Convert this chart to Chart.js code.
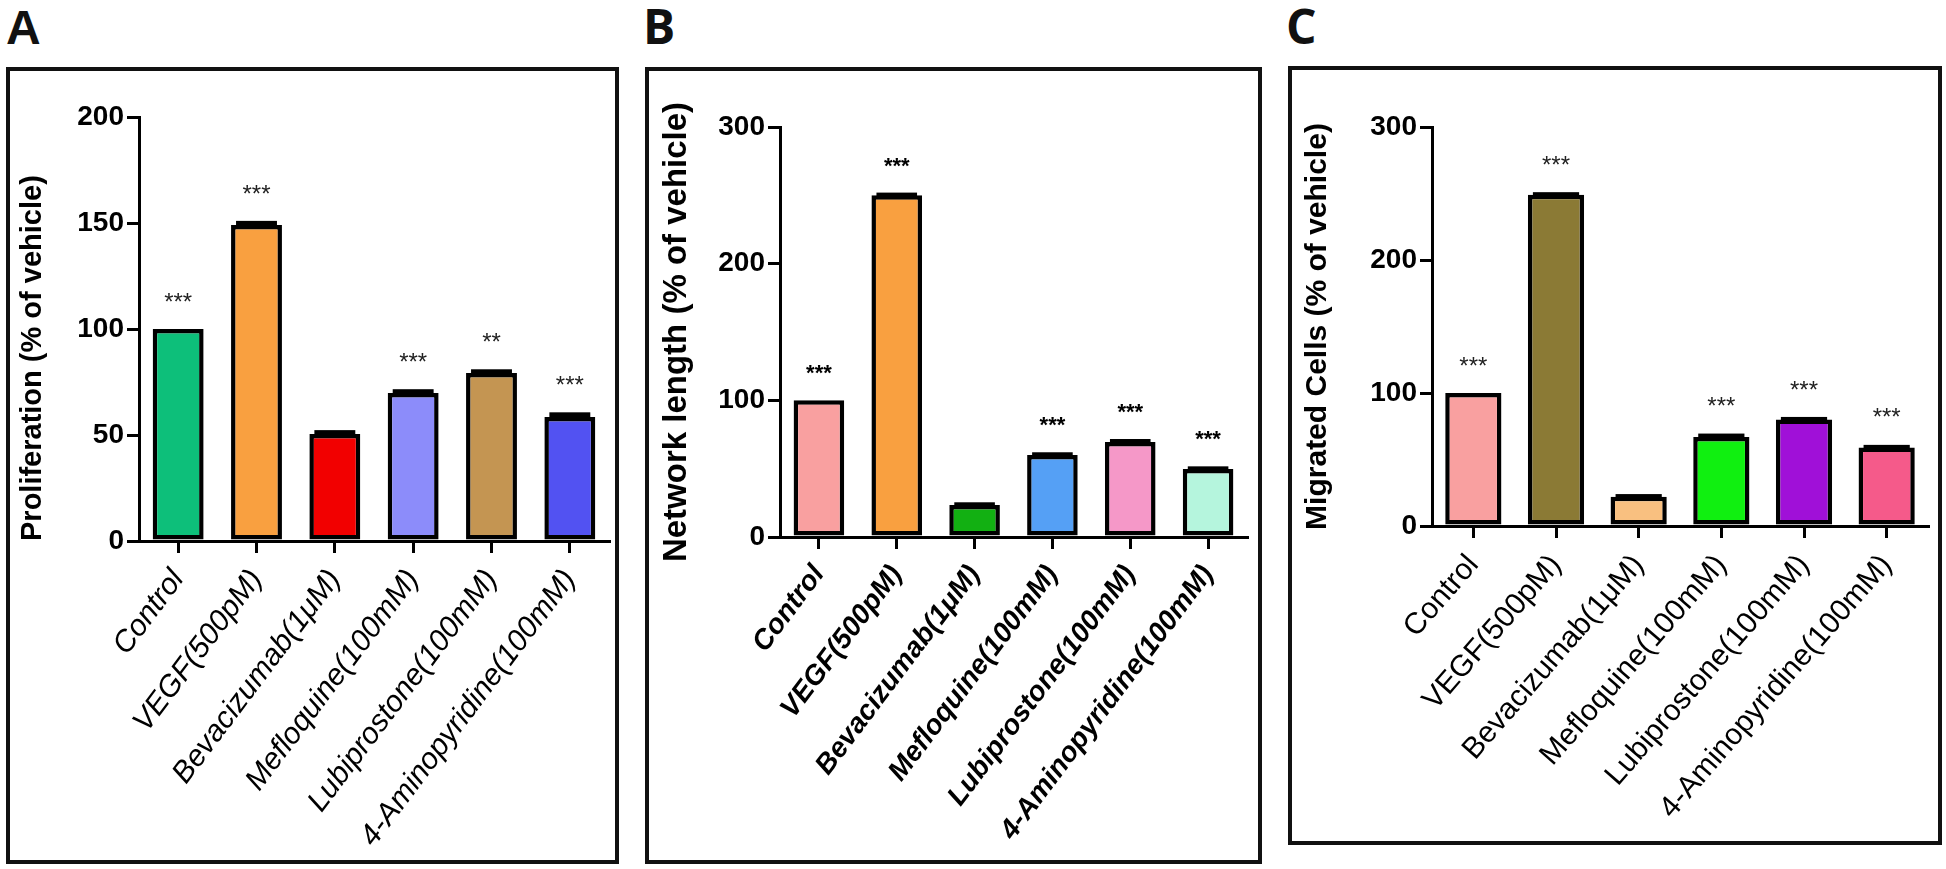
<!DOCTYPE html>
<html lang="en">

<head>
    <meta charset="UTF-8">
    <title>Proliferation, network length and migration</title>
    <script src="https://cdn.jsdelivr.net/npm/chart.js"></script>
    <style>
        body { margin: 0; background: #fff; width: 1946px; height: 869px; position: relative; overflow: hidden; }
        .box { position: absolute; border: 4px solid #111; box-sizing: border-box; }
        canvas { position: absolute; }
        .letter { position: absolute; font-weight: 700; font-size: 48px; line-height: 48px; color: #111; }
    </style>
</head>

<body>
    <div class="letter" style="left:6px;top:4px;font-family:'Liberation Sans',Arial,sans-serif;">A</div>
    <div class="letter" style="left:643px;top:2px;font-family:'Open Sans',sans-serif;">B</div>
    <div class="letter" style="left:1286px;top:2px;font-family:'Open Sans',sans-serif;">C</div>

    <div class="box" style="left:6px;top:67px;width:613px;height:797px;"></div>
    <div class="box" style="left:645px;top:67px;width:617px;height:797px;"></div>
    <div class="box" style="left:1288px;top:66px;width:654px;height:779px;"></div>

    <canvas id="chartA" width="610" height="794" style="left:8px;top:69px;"></canvas>
    <canvas id="chartB" width="614" height="794" style="left:647px;top:69px;"></canvas>
    <canvas id="chartC" width="651" height="776" style="left:1290px;top:68px;"></canvas>

    <script>
        // categories shared by all three panels
        const categories = ['Control', 'VEGF(500pM)', 'Bevacizumab(1μM)', 'Mefloquine(100mM)', 'Lubiprostone(100mM)', '4-Aminopyridine(100mM)'];

        // A - proliferation
        const prolifValues = [100, 149, 50.5, 69.8, 79.2, 58.5];
        const prolifErrors = [0, 2, 1.8, 1.8, 1.8, 2.2];
        const prolifStars = ['***', '***', '', '***', '**', '***'];
        const prolifColors = ['#0dbf7a', '#f9a040', '#f20000', '#8c8cfa', '#c49552', '#5252f2'];
        const prolifTicks = [0, 50, 100, 150, 200];

        // B - network length
        const networkValues = [100, 250, 23.4, 60, 69.5, 49.7];
        const networkErrors = [0, 2, 2, 2, 2.2, 2];
        const networkStars = ['***', '***', '', '***', '***', '***'];
        const networkColors = ['#f9a0a0', '#f9a040', '#12b012', '#55a0f5', '#f598c8', '#b5f5dd'];
        const networkTicks = [0, 100, 200, 300];

        // C - migrated cells
        const migratedValues = [100, 249, 22, 67, 80, 59];
        const migratedErrors = [0, 2, 2, 2.5, 2, 2];
        const migratedStars = ['***', '***', '', '***', '***', '***'];
        const migratedColors = ['#f9a0a0', '#8b7a35', '#f9c080', '#10f010', '#a010d8', '#f55a8a'];
        const migratedTicks = [0, 100, 200, 300];

        // error caps + significance stars, positioned from the y scale
        const errorStars = {
            id: 'errStars',
            afterDatasetsDraw(chart, args, opts) {
                const ctx = chart.ctx;
                const yScale = chart.scales.y;
                const meta = chart.getDatasetMeta(0);
                const values = chart.data.datasets[0].data;
                ctx.save();
                meta.data.forEach((bar, i) => {
                    const top = yScale.getPixelForValue(values[i] + opts.err[i]);
                    if (opts.err[i] > 0) {
                        const w = bar.width - 10;
                        ctx.fillStyle = '#000';
                        ctx.fillRect(bar.x - w / 2, top, w, bar.y - top + 2);
                    }
                    if (opts.stars[i]) {
                        ctx.fillStyle = opts.starColor;
                        ctx.font = opts.starFont;
                        ctx.textAlign = 'center';
                        ctx.textBaseline = 'middle';
                        ctx.fillText(opts.stars[i], bar.x, top - 26);
                    }
                });
                ctx.restore();
            }
        };

        function makeChart(id, cfg) {
            const ctx = document.getElementById(id).getContext('2d');
            return new Chart(ctx, {
                type: 'bar',
                data: {
                    labels: categories,
                    datasets: [{
                        data: cfg.values,
                        backgroundColor: cfg.colors,
                        borderColor: '#000',
                        borderWidth: 4.5,
                        borderSkipped: false,
                        categoryPercentage: 1,
                        barPercentage: cfg.barPct
                    }]
                },
                options: {
                    responsive: false,
                    animation: false,
                    devicePixelRatio: 1,
                    layout: { padding: { left: 0, top: cfg.padTop, right: cfg.padRight, bottom: 0 } },
                    plugins: {
                        legend: { display: false },
                        tooltip: { enabled: false },
                        errStars: { err: cfg.errors, stars: cfg.stars, starFont: cfg.starFont, starColor: cfg.starColor }
                    },
                    scales: {
                        x: {
                            afterFit: s => { s.height = cfg.xHeight; },
                            border: { display: true, color: '#000', width: 3 },
                            grid: { drawOnChartArea: false, offset: false, tickLength: 12, lineWidth: 3, color: '#000' },
                            ticks: {
                                autoSkip: false,
                                minRotation: cfg.rotation,
                                maxRotation: cfg.rotation,
                                padding: cfg.labelPad,
                                color: '#000',
                                font: cfg.labelFont
                            }
                        },
                        y: {
                            min: 0,
                            max: cfg.ticks[cfg.ticks.length - 1],
                            afterBuildTicks: s => { s.ticks = cfg.ticks.map(v => ({ value: v })); },
                            afterFit: s => { s.width = cfg.yWidth; },
                            border: { display: true, color: '#000', width: 3 },
                            grid: { drawOnChartArea: false, tickLength: 12, lineWidth: 3, color: '#000' },
                            ticks: {
                                padding: 3,
                                color: '#000',
                                font: { family: "'Liberation Sans Narrow', 'Liberation Sans', Arial", size: 28, weight: 'bold' }
                            },
                            title: {
                                display: true,
                                text: cfg.title,
                                color: '#000',
                                align: cfg.titleAlign,
                                padding: { top: cfg.titlePad, bottom: 0 },
                                font: { family: "'Liberation Sans', Arial", size: cfg.titleSize, weight: 'bold' }
                            }
                        }
                    }
                },
                plugins: [errorStars]
            });
        }

        makeChart('chartA', {
            values: prolifValues, errors: prolifErrors, stars: prolifStars, colors: prolifColors, ticks: prolifTicks,
            title: 'Proliferation (% of vehicle)', titleSize: 29, titlePad: 8, titleAlign: 'start',
            barPct: 0.65, padTop: 48, padRight: 9, xHeight: 322, yWidth: 131,
            rotation: 53, labelPad: 10,
            labelFont: { family: "'Liberation Sans', Arial", size: 30, style: 'italic' },
            starFont: "24px 'Liberation Sans', Arial", starColor: '#222'
        });

        makeChart('chartB', {
            values: networkValues, errors: networkErrors, stars: networkStars, colors: networkColors, ticks: networkTicks,
            title: 'Network length (% of vehicle)', titleSize: 33, titlePad: 10, titleAlign: 'center',
            barPct: 0.65, padTop: 58, padRight: 14, xHeight: 326, yWidth: 133,
            rotation: 53, labelPad: 10,
            labelFont: { family: "'Liberation Sans', Arial", size: 28, style: 'italic', weight: 'bold' },
            starFont: "bold 22px 'Liberation Sans', Arial", starColor: '#000'
        });

        makeChart('chartC', {
            values: migratedValues, errors: migratedErrors, stars: migratedStars, colors: migratedColors, ticks: migratedTicks,
            title: 'Migrated Cells (% of vehicle)', titleSize: 30, titlePad: 10, titleAlign: 'center',
            barPct: 0.68, padTop: 59, padRight: 13, xHeight: 318, yWidth: 142,
            rotation: 49, labelPad: 10,
            labelFont: { family: "'Liberation Sans', Arial", size: 30 },
            starFont: "24px 'Liberation Sans', Arial", starColor: '#222'
        });
    </script>

</body>

</html>
